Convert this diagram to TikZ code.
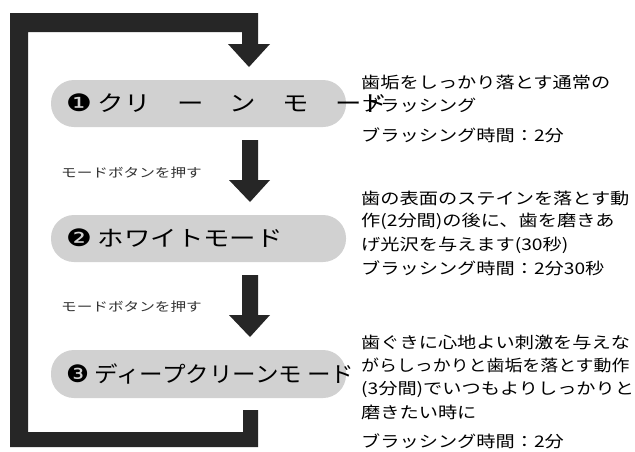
\documentclass[tikz,border=0pt]{standalone}
\usepackage{fontspec}
\newfontfamily\jpf{Noto Sans CJK JP}
\newfontfamily\djv{DejaVu Sans}
\usetikzlibrary{arrows.meta}
\begin{document}
\begin{tikzpicture}[x=1pt,y=-1pt,
  pill/.style={fill=black!18,rounded corners=23pt},
  bar/.style={fill=black!85},
  ptxt/.style={anchor=west,inner sep=0,font=\jpf\fontsize{22}{22}\selectfont},
  rtxt/.style={anchor=west,inner sep=0,font=\jpf\fontsize{16}{16}\selectfont},
  stxt/.style={anchor=west,inner sep=0,font=\jpf\fontsize{12.5}{12.5}\selectfont,text=black!80}]
\clip (0,0) rectangle (635,451);
\fill[white] (0,0) rectangle (635,451);
% frame
\fill[bar] (10,13) -- (258,13) -- (258,44) -- (270,44) -- (249,67) -- (228,44) -- (242,44) -- (242,32) -- (28,32) -- (28,432) -- (243,432) -- (243,410) -- (258,410) -- (258,447) -- (10,447) -- cycle;
% pills
\fill[pill] (51,80) rectangle (346,127);
\fill[pill] (51,215) rectangle (346,262);
\fill[pill] (51,350) rectangle (346,398);
\node[ptxt] (p1) at (66,103) {\scalebox{1.2}[1]{{\djv\fontsize{24}{24}\selectfont ❶} クリ　ー　ン　モ　ード}};
\node[ptxt] (p2) at (66,238) {\scalebox{1.2}[1]{{\djv\fontsize{24}{24}\selectfont ❷} ホワイトモード}};
\node[ptxt] (p3) at (66,374) {\scalebox{1.07}[1]{{\djv\fontsize{24}{24}\selectfont ❸} ディープクリーンモ ード}};
% arrows
\fill[bar] (242,140) -- (258,140) -- (258,180) -- (270,180) -- (250,202) -- (229,180) -- (242,180) -- cycle;
\fill[bar] (242,275) -- (258,275) -- (258,315) -- (270,315) -- (250,337) -- (229,315) -- (242,315) -- cycle;
\node[stxt] (s1) at (61,173) {\scalebox{1.25}[1]{モードボタンを押す}};
\node[stxt] (s2) at (61,307) {\scalebox{1.25}[1]{モードボタンを押す}};
% right texts
\node[rtxt] at (361,82) {\scalebox{1.2}[1]{歯垢をしっかり落とす通常の}};
\node[rtxt] at (361,105) {\scalebox{1.2}[1]{ブラッシング}};
\node[rtxt] at (361,135) {\scalebox{1.2}[1]{ブラッシング時間：2分}};
\node[rtxt] at (361,198) {\scalebox{1.2}[1]{歯の表面のステインを落とす動}};
\node[rtxt] at (361,221) {\scalebox{1.2}[1]{作(2分間)の後に、歯を磨きあ}};
\node[rtxt] at (361,245) {\scalebox{1.2}[1]{げ光沢を与えます(30秒)}};
\node[rtxt] at (361,268) {\scalebox{1.2}[1]{ブラッシング時間：2分30秒}};
\node[rtxt] at (361,342) {\scalebox{1.2}[1]{歯ぐきに心地よい刺激を与えな}};
\node[rtxt] at (361,365) {\scalebox{1.12}[1]{がらしっかりと歯垢を落とす動作}};
\node[rtxt] at (361,389) {\scalebox{1.2}[1]{(3分間)でいつもよりしっかりと}};
\node[rtxt] at (361,412) {\scalebox{1.2}[1]{磨きたい時に}};
\node[rtxt] at (361,441) {\scalebox{1.2}[1]{ブラッシング時間：2分}};
\end{tikzpicture}
\end{document}
